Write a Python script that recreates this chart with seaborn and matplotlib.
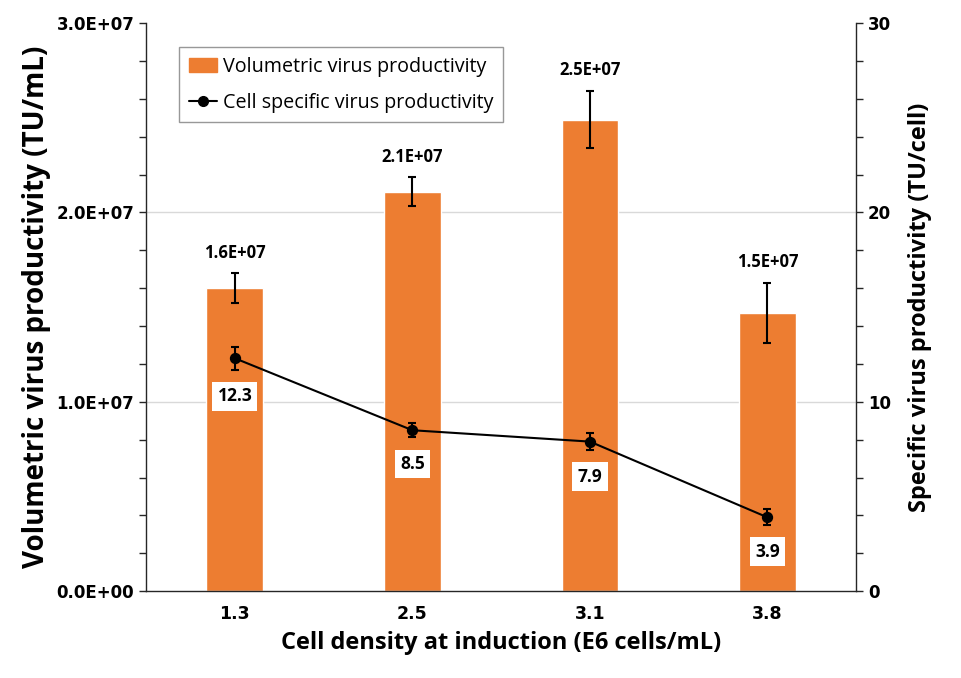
import numpy as np
import pandas as pd
import matplotlib
matplotlib.use("Agg")
import matplotlib.pyplot as plt
import seaborn as sns
from matplotlib.ticker import MultipleLocator, FuncFormatter
from matplotlib.lines import Line2D
from matplotlib.patches import Patch

# data
densities = ["1.3", "2.5", "3.1", "3.8"]
volumetric = [1.60e7, 2.11e7, 2.49e7, 1.47e7]
volumetric_err = [0.78e6, 0.75e6, 1.50e6, 1.60e6]
volumetric_labels = ["1.6E+07", "2.1E+07", "2.5E+07", "1.5E+07"]
specific = [12.3, 8.5, 7.9, 3.9]
specific_err = [0.62, 0.38, 0.45, 0.42]

orange = "#ED7D31"

sns.set_theme(style="white")
plt.rcParams["font.family"] = ["Open Sans", "DejaVu Sans"]
plt.rcParams["text.color"] = "black"
plt.rcParams["axes.labelcolor"] = "black"
plt.rcParams["xtick.color"] = "black"
plt.rcParams["ytick.color"] = "black"

df = pd.DataFrame({"density": densities, "volumetric": volumetric,
                   "specific": specific})

fig = plt.figure(figsize=(9.61, 6.78), dpi=100)
ax = fig.add_axes([0.152, 0.128, 0.739, 0.838])

sns.barplot(data=df, x="density", y="volumetric", color=orange,
            saturation=1, width=0.32, ax=ax, zorder=2)
xpos = np.arange(len(densities))
ax.errorbar(xpos, volumetric, yerr=volumetric_err, fmt="none",
            ecolor="black", elinewidth=1.5, capsize=3, capthick=1.5, zorder=3)
for x, v, e, lab in zip(xpos, volumetric, volumetric_err, volumetric_labels):
    ax.annotate(lab, (x, v + e), xytext=(0, 8.5), textcoords="offset points",
                ha="center", va="bottom", fontsize=12, fontweight="bold")

ax.set_ylim(0, 3e7)
ax.yaxis.set_major_locator(MultipleLocator(1e7))
ax.yaxis.set_minor_locator(MultipleLocator(2e6))
ax.yaxis.set_major_formatter(FuncFormatter(lambda v, p: f"{v:.1E}"))
for yv in (1e7, 2e7):
    ax.axhline(yv, color="#d9d9d9", linewidth=1, zorder=0)
ax.set_xlim(-0.5, 3.5)

ax2 = ax.twinx()
sns.pointplot(data=df, x="density", y="specific", color="black",
              markers="o", errorbar=None, ax=ax2, markersize=7,
              linewidth=1.5)
ax2.errorbar(xpos, specific, yerr=specific_err, fmt="none", ecolor="black",
             elinewidth=1.5, capsize=3, capthick=1.5)
for x, v, e in zip(xpos, specific, specific_err):
    ax2.annotate(f"{v:.1f}", (x, v - e), xytext=(0, -19),
                 textcoords="offset points", ha="center", va="center",
                 fontsize=12.5, fontweight="bold",
                 bbox=dict(boxstyle="square,pad=0.3", fc="white", ec="none"))
ax2.set_ylim(0, 30)
ax2.yaxis.set_major_locator(MultipleLocator(10))
ax2.yaxis.set_minor_locator(MultipleLocator(2))
ax2.set_xlim(-0.5, 3.5)

for a in (ax, ax2):
    a.spines["top"].set_visible(False)
    for s in ("left", "right", "bottom"):
        a.spines[s].set_color("#262626")
        a.spines[s].set_linewidth(1)
ax.spines["right"].set_visible(False)
ax2.spines["left"].set_visible(False)
ax2.spines["bottom"].set_visible(False)

ax.tick_params(axis="y", which="both", direction="out", length=5, width=1,
               color="#262626", left=True, labelsize=12)
ax.tick_params(axis="x", length=0, labelsize=12.5, pad=10)
ax2.tick_params(axis="y", which="both", direction="out", length=5, width=1,
                color="#262626", right=True, labelsize=12)
for lab in ax.get_yticklabels() + ax2.get_yticklabels():
    lab.set_fontweight("bold")
    lab.set_family("DejaVu Sans")
for lab in ax.get_xticklabels():
    lab.set_fontweight("bold")
    lab.set_family("DejaVu Sans")

ax.set_xlabel("Cell density at induction (E6 cells/mL)", fontsize=17,
              fontweight="bold", labelpad=6)
ax.set_ylabel("Volumetric virus productivity (TU/mL)", fontsize=20,
              fontweight="bold", labelpad=4)
ax2.set_ylabel("Specific virus productivity (TU/cell)", fontsize=17,
               fontweight="bold", labelpad=12)

handles = [Patch(color=orange, label="Volumetric virus productivity"),
           Line2D([], [], color="black", marker="o", markersize=7,
                  linewidth=1.5, label="Cell specific virus productivity")]
leg = ax2.legend(handles=handles, loc="upper left",
                 bbox_to_anchor=(0.046, 0.958), fontsize=14.2,
                 frameon=True, fancybox=False, edgecolor="#7f7f7f",
                 handlelength=1.45, handletextpad=0.3, borderpad=0.5,
                 labelspacing=0.8, borderaxespad=0)
leg.get_frame().set_linewidth(1)

fig.savefig("out.png", dpi=100)
